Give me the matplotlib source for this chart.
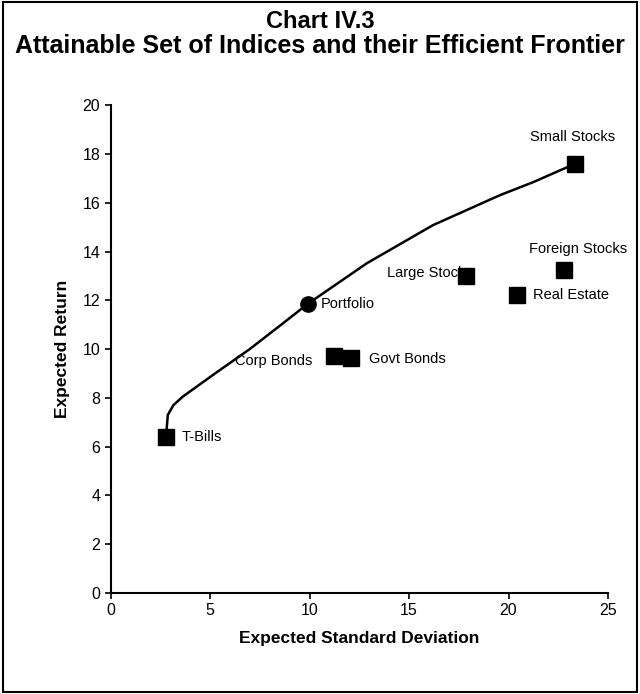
import matplotlib.pyplot as plt
import numpy as np

plt.rc('font', family=['Liberation Sans', 'DejaVu Sans'])

# asset indices (std dev, return)
names = ['T-Bills', 'Corp Bonds', 'Govt Bonds', 'Large Stocks', 'Real Estate', 'Foreign Stocks', 'Small Stocks']
sd = [2.8, 11.2, 12.1, 17.85, 20.45, 22.8, 23.35]
ret = [6.4, 9.7, 9.65, 13.0, 12.2, 13.25, 17.6]

port_sd = [9.9]
port_ret = [11.85]

# efficient frontier
front_sd = [2.8, 2.87, 3.15, 3.62, 5.33, 6.99, 8.65, 9.9, 12.88, 16.2, 19.57, 21.23, 23.35]
front_ret = [6.6, 7.3, 7.7, 8.05, 9.05, 10.0, 11.05, 11.85, 13.52, 15.08, 16.31, 16.84, 17.6]

# label offsets in points, and alignment
offs = {
    'T-Bills': ((11, 0), 'left'),
    'Corp Bonds': ((-15, -3), 'right'),
    'Govt Bonds': ((13, -1), 'left'),
    'Large Stocks': ((5, 2), 'right'),
    'Real Estate': ((11, 0), 'left'),
    'Foreign Stocks': ((10, 15), 'center'),
    'Small Stocks': ((-2, 19), 'center'),
}

fig = plt.figure(figsize=(6.4, 6.94), dpi=100)
ax = fig.add_axes([0.173, 0.1455, 0.777, 0.703])

ax.plot(front_sd, front_ret, color='k', lw=1.8, zorder=2)
for n, x, y in zip(names, sd, ret):
    (dx, dy), ha = offs[n]
    ax.annotate(n, (x, y), xytext=(dx, dy), textcoords='offset points',
                ha=ha, va='center', fontsize=10.5, zorder=3)
ax.plot(sd, ret, 's', color='k', ms=11, zorder=4)
ax.plot(port_sd, port_ret, 'o', color='k', ms=11, zorder=4)
ax.annotate('Portfolio', (port_sd[0], port_ret[0]), xytext=(9.5, 0), textcoords='offset points',
            ha='left', va='center', fontsize=10.5)

ax.set_xlim(0, 25)
ax.set_ylim(0, 20)
ax.set_xticks(np.arange(0, 26, 5))
ax.set_yticks(np.arange(0, 21, 2))
for s in ['top', 'right']:
    ax.spines[s].set_visible(False)
for s in ['left', 'bottom']:
    ax.spines[s].set_linewidth(1.5)
ax.tick_params(direction='out', length=4, width=1.2, labelsize=11.5)
ax.set_xlabel('Expected Standard Deviation', fontsize=12.5, fontweight='bold', labelpad=9)
ax.set_ylabel('Expected Return', fontsize=12.5, fontweight='bold', labelpad=9)

fig.text(0.5, 0.969, 'Chart IV.3', ha='center', va='center', fontsize=17, fontweight='bold')
fig.text(0.5, 0.934, 'Attainable Set of Indices and their Efficient Frontier',
         ha='center', va='center', fontsize=18, fontweight='bold')

fig.patches.append(plt.Rectangle((0.004, 0.003), 0.992, 0.994, transform=fig.transFigure,
                                 fill=False, lw=1.5, edgecolor='k'))

fig.savefig('out.png', dpi=100)
